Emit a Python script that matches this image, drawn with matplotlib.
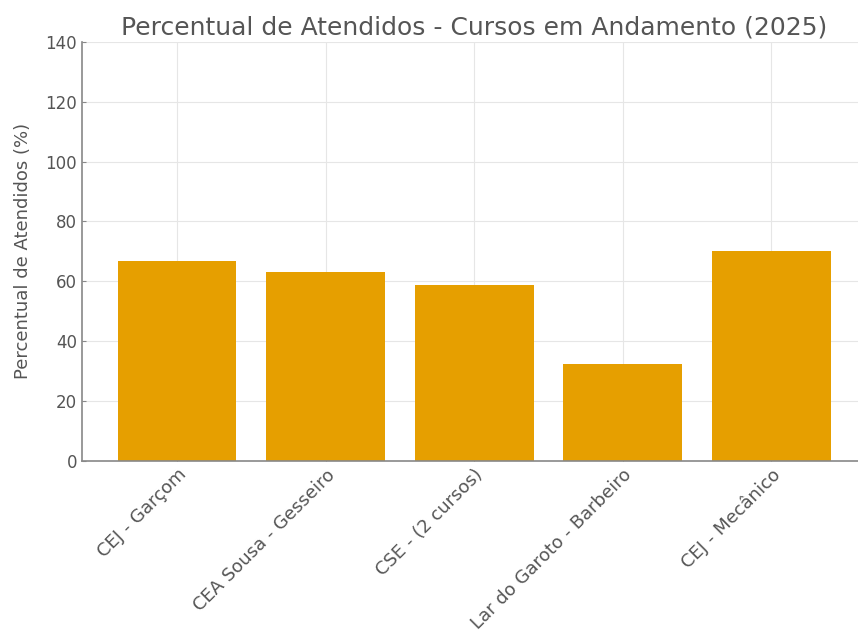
import matplotlib
matplotlib.use("Agg")
import matplotlib.pyplot as plt

cursos = ["CEJ - Garçom", "CEA Sousa - Gesseiro", "CSE - (2 cursos)",
          "Lar do Garoto - Barbeiro", "CEJ - Mecânico"]
percentual = [66.7, 63.2, 58.8, 32.5, 70.0]
y_ticks = [0, 20, 40, 60, 80, 100, 120, 140]

bar_color = "#E69F00"
text_color = "#555555"

fig = plt.figure(figsize=(8.58, 6.33), dpi=100)
ax = fig.add_axes([0.0956, 0.272, 0.914, 0.662])

ax.bar(cursos, percentual, width=0.8, color=bar_color, zorder=2)

ax.set_ylim(0, 140)
ax.set_yticks(y_ticks)
ax.grid(True, color="#e6e6e6", linewidth=0.8, zorder=0)

for side in ["top", "right"]:
    ax.spines[side].set_visible(False)
for side in ["left", "bottom"]:
    ax.spines[side].set_color("#888888")
    ax.spines[side].set_linewidth(1.2)

ax.tick_params(axis="both", direction="in", length=3, color="#888888",
               labelcolor=text_color, labelsize=12)
ax.tick_params(axis="x", labelsize=13)
plt.setp(ax.get_xticklabels(), rotation=45, ha="right", rotation_mode="anchor")

ax.set_ylabel("Percentual de Atendidos (%)", color=text_color, fontsize=13,
              labelpad=10)
ax.set_title("Percentual de Atendidos - Cursos em Andamento (2025)",
             color=text_color, fontsize=18, pad=5)

fig.savefig("out.png", dpi=100)
